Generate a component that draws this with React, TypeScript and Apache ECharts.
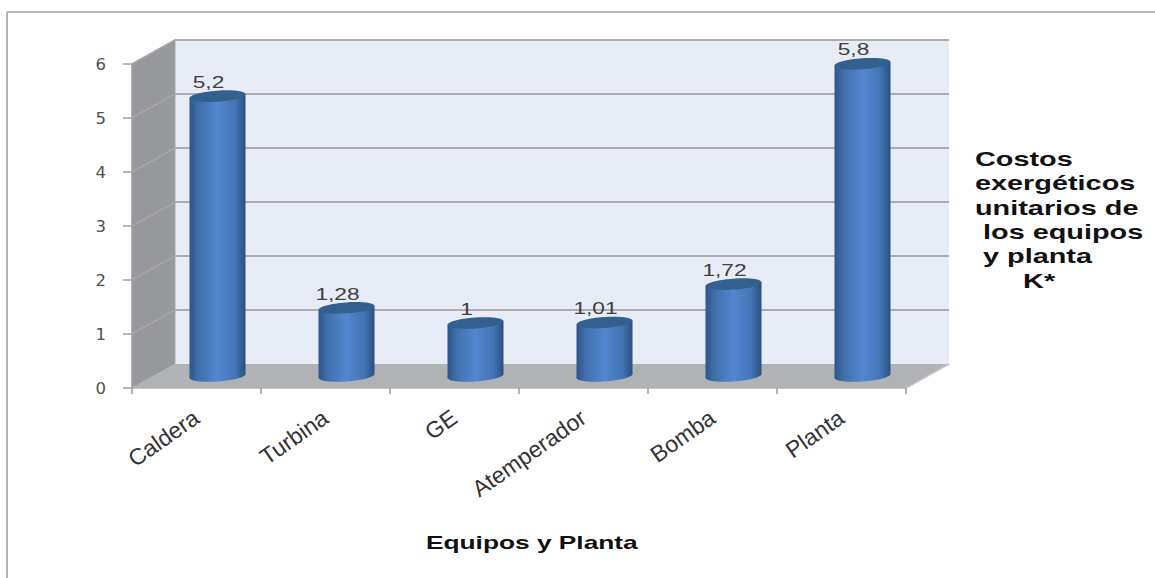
import React, { useEffect, useRef } from "react";
import * as echarts from "echarts";

const categories = ["Caldera", "Turbina", "GE", "Atemperador", "Bomba", "Planta"];
const values = [5.2, 1.28, 1, 1.01, 1.72, 5.8];
const yTicks = [0, 1, 2, 3, 4, 5, 6];
const sideTitle = ["Costos", "exergéticos", "unitarios de", " los equipos", " y planta", "      K*"];
const xTitle = "Equipos y Planta";

const ARIAL = "'Liberation Sans', Arial, sans-serif";
const WALL_DX = 43;
const WALL_DY = 24;
const BAR_DX = 21;
const BAR_DY = 11;
const BAR_RX = 28;
const BAR_RY = 5.5;
const TILT = 2;
const TILT_RAD = (4 * Math.PI) / 180;

const fmt = (v: number) => String(v).replace(".", ",");

function renderWalls(params: any, api: any) {
  const c = params.coordSys;
  const l = c.x, r = c.x + c.width, b = c.y + c.height, t = c.y;
  const children: any[] = [
    { type: "polygon", shape: { points: [[l + WALL_DX, t - WALL_DY], [r + WALL_DX, t - WALL_DY], [r + WALL_DX, b - WALL_DY], [l + WALL_DX, b - WALL_DY]] }, style: { fill: "#E8ECF6" } },
    { type: "polygon", shape: { points: [[l, t], [l + WALL_DX, t - WALL_DY], [l + WALL_DX, b - WALL_DY], [l, b]] }, style: { fill: "#96989C", stroke: "#A8A8A8", lineWidth: 1 } },
    { type: "polygon", shape: { points: [[l, b], [r, b], [r + WALL_DX, b - WALL_DY], [l + WALL_DX, b - WALL_DY]] }, style: { fill: "#B0B2B6" } },
  ];
  yTicks.forEach((v) => {
    const y = api.coord([0, v])[1];
    if (v > 0) {
      children.push({ type: "line", shape: { x1: l + WALL_DX, y1: y - WALL_DY, x2: r + WALL_DX, y2: y - WALL_DY }, style: { stroke: "#ADADAD", lineWidth: 2 } });
      children.push({ type: "line", shape: { x1: l, y1: y, x2: l + WALL_DX, y2: y - WALL_DY }, style: { stroke: "#A6A6A6", lineWidth: 1.5 } });
    }
  });
  children.push({ type: "line", shape: { x1: r, y1: b, x2: r + WALL_DX, y2: b - WALL_DY }, style: { stroke: "#C4C4C4", lineWidth: 1.5 } });
  return { type: "group", children };
}

const bodyFill = () =>
  new echarts.graphic.LinearGradient(0, 0, 1, 0, [
    { offset: 0, color: "#2E5587" },
    { offset: 0.14, color: "#3F6DA8" },
    { offset: 0.5, color: "#5387CF" },
    { offset: 0.82, color: "#4375B5" },
    { offset: 1, color: "#2A4F7E" },
  ]);

function renderCylinder(params: any, api: any) {
  const idx = api.value(0);
  const v = api.value(1);
  const [cx0, top0] = api.coord([idx, v]);
  const zero0 = api.coord([idx, 0])[1];
  const cx = cx0 + BAR_DX;
  const yt = top0 - BAR_DY;
  const yb = zero0 - BAR_DY - 1;
  const xl = cx - BAR_RX;
  const xr = cx + BAR_RX;
  return {
    type: "group",
    children: [
      {
        type: "ellipse",
        x: cx,
        y: yb,
        rotation: TILT_RAD,
        shape: { cx: 0, cy: 0, rx: BAR_RX, ry: BAR_RY },
        style: { fill: bodyFill() },
      },
      {
        type: "polygon",
        shape: { points: [[xl, yt + TILT], [xr, yt - TILT], [xr, yb - TILT], [xl, yb + TILT]] },
        style: { fill: bodyFill() },
      },
      {
        type: "ellipse",
        x: cx,
        y: yt,
        rotation: TILT_RAD,
        shape: { cx: 0, cy: 0, rx: BAR_RX, ry: BAR_RY },
        style: { fill: "#33608F" },
      },
      {
        type: "text",
        x: cx - 9,
        y: yt - 14,
        scaleX: 1.42,
        style: { text: fmt(v), fontFamily: ARIAL, fontSize: 16, fill: "#404040", align: "center", verticalAlign: "middle" },
      },
    ],
  };
}

const boldText = (text: string, x: number, y: number, size: number, scaleX: number) => ({
  type: "text",
  x,
  y,
  scaleX,
  style: { text, fontFamily: ARIAL, fontWeight: "bold", fontSize: size, fill: "#111111", align: "left", verticalAlign: "middle" },
});

export default function App() {
  const ref = useRef<HTMLDivElement>(null);

  useEffect(() => {
    const chart = echarts.init(ref.current!, null, { renderer: "svg" });
    chart.setOption({
      animation: false,
      backgroundColor: "#FFFFFF",
      grid: { left: 132, top: 64, width: 774, height: 324 },
      xAxis: {
        type: "category",
        data: categories,
        axisLine: { lineStyle: { color: "#B4B4B4", width: 1.5 } },
        axisTick: { show: true, length: 6, alignWithLabel: false, lineStyle: { color: "#9A9A9A", width: 1.5 } },
        axisLabel: { rotate: 35, fontFamily: ARIAL, fontSize: 23, color: "#333333", margin: 27, interval: 0 },
      },
      yAxis: {
        type: "value",
        min: 0,
        max: 6,
        interval: 1,
        splitLine: { show: false },
        axisLine: { show: true, lineStyle: { color: "#A0A0A0", width: 1.5 } },
        axisTick: { show: true, length: 9, lineStyle: { color: "#A0A0A0", width: 1.5 } },
        axisLabel: { fontFamily: "'DejaVu Sans', sans-serif", fontSize: 16.5, color: "#505050", margin: 26 },
      },
      series: [
        { type: "custom", renderItem: renderWalls, data: [0], silent: true, z: 1, clip: false },
        {
          type: "custom",
          renderItem: renderCylinder,
          data: values.map((v, i) => [i, v]),
          encode: { x: 0, y: 1 },
          silent: true,
          z: 3,
          clip: false,
        },
      ],
      graphic: [
        { type: "line", shape: { x1: 7, y1: 12, x2: 1155, y2: 12 }, style: { stroke: "#B4B4B4", lineWidth: 2 } },
        { type: "line", shape: { x1: 7, y1: 12, x2: 7, y2: 578 }, style: { stroke: "#B4B4B4", lineWidth: 2 } },
        ...sideTitle.map((line, i) => boldText(line, 975, 159 + i * 24.4, 19.5, 1.48)),
        boldText(xTitle, 426, 543, 18, 1.46),
      ],
    });
    return () => chart.dispose();
  }, []);

  return <div ref={ref} style={{ position: "absolute", left: 0, top: 0, width: 1155, height: 578 }} />;
}
